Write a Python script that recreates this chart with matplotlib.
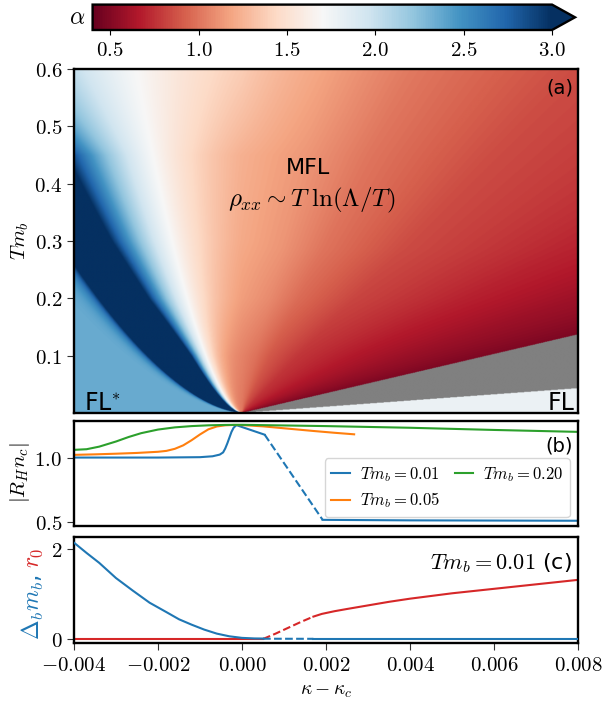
import numpy as np
import matplotlib
matplotlib.use('Agg')
import matplotlib.pyplot as plt
from matplotlib.ticker import FuncFormatter

plt.rcParams['mathtext.fontset'] = 'cm'
plt.rcParams['font.family'] = ['DejaVu Sans']

# ---------------- data ----------------
# colour map (alpha) parameters for panel (a)
kappa_range = [-0.004, 0.008]
T_range = [0.0, 0.6]
fan_exponent = 0.6          # kappa ~ T^0.6 scaling on the FL* side
flstar_u = 0.0088           # FL* boundary in kappa/T^0.6
white_s = 0.39              # alpha = 1.7 contour (fraction of FL* boundary)
alpha_crit = 1.0
lam_T = [0.0, 0.1, 0.2, 0.3, 0.45, 0.6]
lam_vals = [0.10, 0.15, 0.26, 0.32, 0.36, 0.62]
alpha_flstar = 2.35
mfl_v = [0.0, 0.0033, 0.0067, 0.0133, 0.0267, 0.04, 0.0584]
mfl_alpha = [1.2, 1.12, 1.0, 0.85, 0.71, 0.60, 0.48]
gray_lo_v = 0.0584
gray_hi_v = 0.186
alpha_fl = 1.78

# panel (b)
b_blue1_k = [-0.004, -0.002, -0.001, -0.0007, -0.00053, -0.00045, -0.0004, -0.00035, -0.0003,
             -0.00025, -0.0002, -0.00015, -0.00012, 0.00054]
b_blue1_v = [1.0, 1.0, 1.003, 1.01, 1.023, 1.04, 1.07, 1.11, 1.155, 1.2, 1.232, 1.248, 1.251, 1.178]
b_blue_dash_k = [0.00054, 0.00192]
b_blue_dash_v = [1.178, 0.515]
b_blue2_k = [0.00192, 0.004, 0.008]
b_blue2_v = [0.515, 0.511, 0.508]
b_orange_k = [-0.004, -0.0035, -0.003, -0.0025, -0.002, -0.0018, -0.0016, -0.0014, -0.0012, -0.001,
              -0.0008, -0.0006, -0.0004, -0.0002, 0.0, 0.0005, 0.001, 0.0017, 0.0022, 0.00267]
b_orange_v = [1.021, 1.025, 1.03, 1.036, 1.045, 1.052, 1.068, 1.095, 1.135, 1.18,
              1.22, 1.242, 1.251, 1.254, 1.253, 1.243, 1.228, 1.207, 1.193, 1.181]
b_green_k = [-0.004, -0.0037, -0.0034, -0.003, -0.0027, -0.0024, -0.002, -0.0016, -0.0012, -0.0008,
             -0.0004, 0.0, 0.002, 0.004, 0.006, 0.008]
b_green_v = [1.06, 1.065, 1.085, 1.125, 1.16, 1.19, 1.218, 1.235, 1.245, 1.251,
             1.254, 1.255, 1.245, 1.232, 1.215, 1.20]
b_labels = [r'$Tm_b=0.01$', r'$Tm_b=0.05$', r'$Tm_b=0.20$']

# panel (c)
c_delta_k = [-0.004, -0.0037, -0.0034, -0.003, -0.0026, -0.0022, -0.0018, -0.0015, -0.0012,
             -0.0009, -0.0006, -0.0003, 0.0, 0.0003, 0.0005]
c_delta_v = [2.15, 1.92, 1.70, 1.36, 1.08, 0.81, 0.60, 0.44, 0.32, 0.21, 0.12, 0.06, 0.025, 0.012, 0.01]
c_delta_dash_k = [0.0005, 0.0017]
c_delta_dash_v = [0.006, 0.004]
c_delta2_k = [0.0017, 0.008]
c_delta2_v = [0.004, 0.004]
c_r0_k = [-0.004, 0.0005]
c_r0_v = [0.0, 0.0]
c_r0_dash_k = [0.0005, 0.0008, 0.0011, 0.0014, 0.0017]
c_r0_dash_v = [0.0, 0.12, 0.25, 0.38, 0.50]
c_r02_k = [0.0017, 0.0019, 0.0022, 0.0025, 0.003, 0.0035, 0.004, 0.005, 0.006, 0.007, 0.008]
c_r02_v = [0.50, 0.56, 0.62, 0.67, 0.75, 0.83, 0.90, 1.02, 1.12, 1.22, 1.32]

cbar_ticks = [0.5, 1.0, 1.5, 2.0, 2.5, 3.0]

# ---------------- build the alpha map ----------------
nk, nt = 900, 700
kk = np.linspace(kappa_range[0], kappa_range[1], nk)
tt = np.linspace(1e-4, T_range[1], nt)
K, TT = np.meshgrid(kk, tt)
lam = np.interp(TT, lam_T, lam_vals)
s = (-K / TT**fan_exponent) / flstar_u
s_in = np.clip(s, 0, 1)
alpha_fan = alpha_crit + (1.7 - alpha_crit) * np.exp((s_in - white_s) / lam)
alpha_fan = np.minimum(alpha_fan, 3.4)
alpha_one = np.minimum(alpha_crit + (1.7 - alpha_crit) * np.exp((1 - white_s) / lam), 3.4)
alpha_out = alpha_flstar + (alpha_one - alpha_flstar) * np.exp(-(s - 1) / 0.05)
alpha_left = np.where(s > 1, alpha_out, alpha_fan)
alpha_L0 = alpha_crit + (1.7 - alpha_crit) * np.exp((0 - white_s) / lam)
v = K / TT
base_right = np.interp(v, mfl_v, mfl_alpha)
scale = (alpha_L0 - mfl_alpha[-1]) / (mfl_alpha[0] - mfl_alpha[-1])
right_low = mfl_alpha[-1] + (base_right - mfl_alpha[-1]) * scale
right_high = base_right + (alpha_L0 - mfl_alpha[0]) * np.exp(-np.clip(v, 0, None) / 0.003)
alpha_right = np.where(scale < 1, right_low, right_high)
alpha_right = np.where(v >= gray_hi_v, alpha_fl, alpha_right)
alpha_right = np.where((v > gray_lo_v) & (v < gray_hi_v), np.nan, alpha_right)
alpha = np.where(K < 0, alpha_left, alpha_right)

# ---------------- figure ----------------
W, H = 603, 702
fig = plt.figure(figsize=(W / 100, H / 100), dpi=100)

def ax_px(l, t, r, b):
    return fig.add_axes([l / W, 1 - b / H, (r - l) / W, (b - t) / H])

cax = ax_px(92.6, 4.6, 575, 30)
axa = ax_px(74, 69, 578, 413)
axb = ax_px(74, 420.7, 578, 525.5)
axc = ax_px(74, 537.3, 578, 643.3)

fs_tick = 15
blue = '#1f77b4'
orange = '#ff7f0e'
green = '#2ca02c'
red = '#d62728'

cmap = plt.get_cmap('RdBu').copy()
cmap.set_bad('#808080')
im = axa.imshow(np.ma.masked_invalid(alpha), origin='lower', aspect='auto', cmap=cmap,
                vmin=0.4, vmax=3.0, extent=[kappa_range[0], kappa_range[1], T_range[0], T_range[1]],
                interpolation='bilinear')
axa.set_xlim(kappa_range)
axa.set_ylim(T_range)
axa.set_yticks([0.1, 0.2, 0.3, 0.4, 0.5, 0.6])
axa.yaxis.set_major_formatter(FuncFormatter(lambda x, p: f'${x:.1f}$'))
axa.tick_params(axis='x', bottom=False, labelbottom=False)
axa.set_ylabel(r'$Tm_b$', fontsize=15)
axa.yaxis.set_label_coords(-0.085, 0.5)
axa.text(0.464, 0.712, 'MFL', transform=axa.transAxes, ha='center', va='center', fontsize=16)
axa.text(0.472, 0.619, r'$\rho_{xx}\sim T\;\ln(\Lambda/T)$', transform=axa.transAxes,
         ha='center', va='center', fontsize=18)
axa.text(0.99, 0.945, '(a)', transform=axa.transAxes, ha='right', va='center', fontsize=14)
axa.text(0.02, 0.008, r'FL$^{*}$', transform=axa.transAxes, ha='left', va='baseline', fontsize=17)
axa.text(0.994, 0.008, 'FL', transform=axa.transAxes, ha='right', va='baseline', fontsize=17)

cb = fig.colorbar(im, cax=cax, orientation='horizontal', extend='max', ticks=cbar_ticks)
cb.ax.xaxis.set_major_formatter(FuncFormatter(lambda x, p: f'${x:.1f}$'))
cb.ax.tick_params(labelsize=fs_tick)
cb.outline.set_linewidth(1.7)
cax.text(-0.016, 0.5, r'$\alpha$', transform=cax.transAxes, ha='right', va='center', fontsize=17)

# panel (b)
axb.plot(b_blue1_k, b_blue1_v, color=blue, lw=1.5, label=b_labels[0])
axb.plot(b_blue_dash_k, b_blue_dash_v, color=blue, lw=1.5, ls='--')
axb.plot(b_blue2_k, b_blue2_v, color=blue, lw=1.5)
axb.plot(b_orange_k, b_orange_v, color=orange, lw=1.5, label=b_labels[1])
axb.plot(b_green_k, b_green_v, color=green, lw=1.5, label=b_labels[2])
axb.set_xlim(kappa_range)
axb.set_ylim(0.471, 1.287)
axb.set_yticks([0.5, 1.0])
axb.yaxis.set_major_formatter(FuncFormatter(lambda x, p: f'${x:.1f}$'))
axb.tick_params(axis='x', bottom=False, labelbottom=False)
axb.set_ylabel(r'$|R_H n_c|$', fontsize=15)
axb.yaxis.set_label_coords(-0.083, 0.5)
axb.text(0.99, 0.76, '(b)', transform=axb.transAxes, ha='right', va='center', fontsize=14)
axb.legend(loc='lower right', ncol=2, fontsize=12, handlelength=1.1, columnspacing=0.9,
           labelspacing=0.4, handletextpad=0.6)

# panel (c)
axc.plot(c_r0_k, c_r0_v, color=red, lw=1.5, zorder=2)
axc.plot(c_r0_dash_k, c_r0_dash_v, color=red, lw=1.5, ls='--', zorder=2)
axc.plot(c_r02_k, c_r02_v, color=red, lw=1.5, zorder=2)
axc.plot(c_delta_k, c_delta_v, color=blue, lw=1.5, zorder=3)
axc.plot(c_delta_dash_k, c_delta_dash_v, color=blue, lw=1.5, ls='--', zorder=3)
axc.plot(c_delta2_k, c_delta2_v, color=blue, lw=1.5, zorder=3)
axc.set_xlim(kappa_range)
axc.set_ylim(-0.096, 2.27)
axc.set_yticks([0, 2])
axc.yaxis.set_major_formatter(FuncFormatter(lambda x, p: f'${x:.0f}$'))
axc.set_xticks([-0.004, -0.002, 0.0, 0.002, 0.004, 0.006, 0.008])
axc.xaxis.set_major_formatter(FuncFormatter(lambda x, p: f'${x:.3f}$'))
axc.set_xlabel(r'$\kappa-\kappa_c$', fontsize=14)
axc.text(0.988, 0.757, r'$Tm_b=0.01$ (c)', transform=axc.transAxes, ha='right', va='center', fontsize=16)
axc.text(-0.081, 0.03, r'$\Delta_b m_b$,', transform=axc.transAxes, rotation=90,
         ha='center', va='bottom', color=blue, fontsize=17)
axc.text(-0.081, 0.71, r'$r_0$', transform=axc.transAxes, rotation=90,
         ha='center', va='bottom', color=red, fontsize=17)

for ax in (axa, axb, axc):
    for sp in ax.spines.values():
        sp.set_linewidth(1.7)
    ax.tick_params(labelsize=fs_tick, direction='out', length=5, width=0.8, color='#333333')

fig.savefig('out.png', dpi=100)
